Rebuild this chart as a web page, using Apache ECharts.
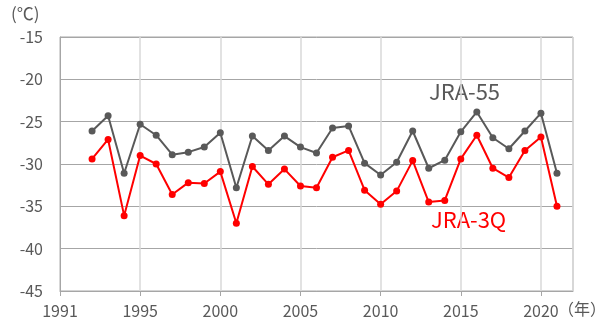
<!DOCTYPE html>
<html>
<head>
<meta charset="utf-8">
<script src="https://cdn.jsdelivr.net/npm/echarts@6/dist/echarts.min.js"></script>
<style>
  html, body { margin: 0; padding: 0; background: #fff; }
  #chart { width: 611px; height: 324px; }
</style>
</head>
<body>
<div id="chart"></div>
<script>
// Annual mean temperature (℃), 1992–2021
const years = [1992, 1993, 1994, 1995, 1996, 1997, 1998, 1999, 2000, 2001,
               2002, 2003, 2004, 2005, 2006, 2007, 2008, 2009, 2010, 2011,
               2012, 2013, 2014, 2015, 2016, 2017, 2018, 2019, 2020, 2021];

const jra55 = [-26.1, -24.3, -31.1, -25.3, -26.6, -28.9, -28.6, -28.0, -26.3, -32.8,
               -26.7, -28.4, -26.7, -28.0, -28.7, -25.75, -25.5, -29.9, -31.3, -29.8,
               -26.1, -30.5, -29.55, -26.2, -23.85, -26.9, -28.2, -26.1, -24.0, -31.1];

const jra3q = [-29.4, -27.1, -36.1, -29.0, -30.0, -33.6, -32.2, -32.3, -30.9, -37.0,
               -30.3, -32.4, -30.6, -32.6, -32.8, -29.2, -28.4, -33.1, -34.75, -33.2,
               -29.6, -34.5, -34.3, -29.4, -26.6, -30.5, -31.6, -28.4, -26.8, -35.0];

const yTicks = [-45, -40, -35, -30, -25, -20, -15];

const FONT = '"Noto Sans CJK JP", "Noto Sans", sans-serif';
const TEXT = '#595959';

const pairs = (xs, ys) => xs.map((x, i) => [x, ys[i]]);

const chart = echarts.init(document.getElementById('chart'), null, { renderer: 'canvas' });

chart.setOption({
  animation: false,
  backgroundColor: '#ffffff',
  grid: {
    left: 60, right: 38, top: 37, bottom: 33,
    show: true, borderColor: '#a6a6a6', borderWidth: 1
  },
  xAxis: {
    type: 'value',
    min: 1990, max: 2022, interval: 5,
    axisLine: { show: true, lineStyle: { color: '#a6a6a6', width: 1 } },
    axisTick: { show: true, length: 5, lineStyle: { color: '#a6a6a6' } },
    splitLine: { show: true, lineStyle: { color: '#d9d9d9', width: 1.5 } },
    axisLabel: {
      color: TEXT, fontFamily: FONT, fontSize: 16, margin: 12,
      showMaxLabel: false,
      formatter: v => (v === 1990 ? '1991' : String(v))
    }
  },
  yAxis: {
    type: 'value',
    min: yTicks[0], max: yTicks[yTicks.length - 1], interval: 5,
    axisLine: { show: true, lineStyle: { color: '#a6a6a6', width: 1 } },
    axisTick: { show: false },
    splitLine: { show: true, lineStyle: { color: '#a6a6a6', width: 1 } },
    axisLabel: { color: TEXT, fontFamily: FONT, fontSize: 16, margin: 17 }
  },
  graphic: [
    { type: 'text', left: 11, top: 5,
      style: { text: '(℃)', fill: TEXT, font: '17px ' + FONT } },
    { type: 'text', left: 558, top: 301,
      style: { text: '（年）', fill: TEXT, font: '16px ' + FONT } },
    { type: 'text', left: 429, top: 81,
      style: { text: 'JRA-55', fill: '#595959', font: '22px ' + FONT } },
    { type: 'text', left: 431, top: 209,
      style: { text: 'JRA-3Q', fill: '#ff0000', font: '22px ' + FONT } }
  ],
  series: [
    {
      name: 'JRA-55', type: 'line', data: pairs(years, jra55),
      symbol: 'circle', symbolSize: 7,
      lineStyle: { color: '#595959', width: 2 },
      itemStyle: { color: '#595959' }
    },
    {
      name: 'JRA-3Q', type: 'line', data: pairs(years, jra3q),
      symbol: 'circle', symbolSize: 7,
      lineStyle: { color: '#ff0000', width: 2 },
      itemStyle: { color: '#ff0000' }
    }
  ]
});
</script>
</body>
</html>
